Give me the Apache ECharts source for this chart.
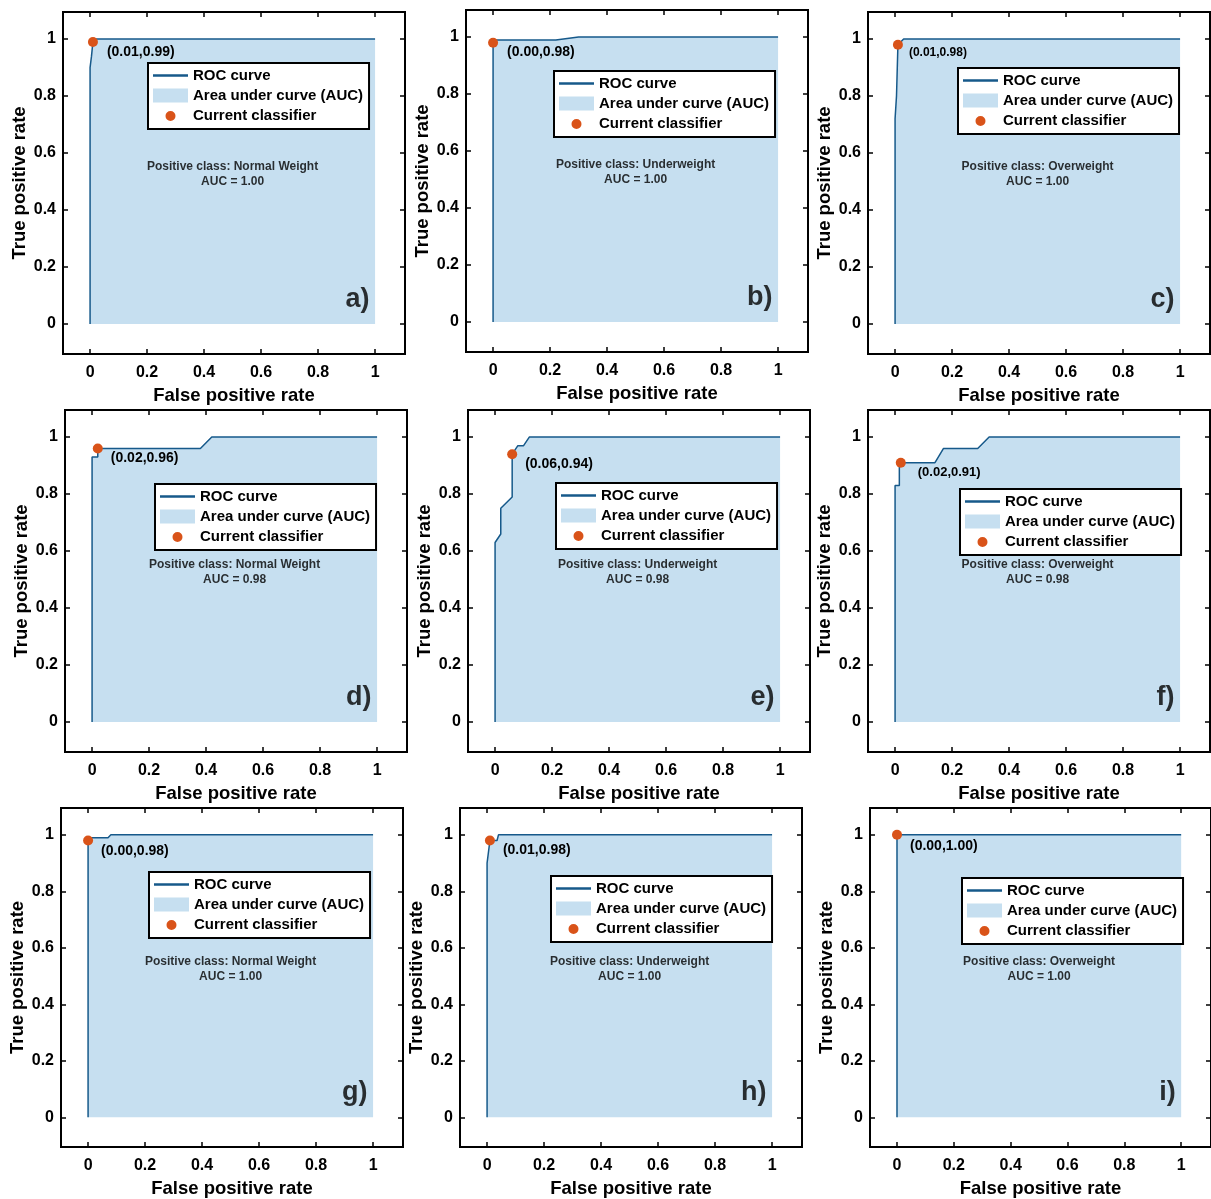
<!DOCTYPE html>
<html><head><meta charset="utf-8">
<script src="https://cdn.jsdelivr.net/npm/echarts@6/dist/echarts.min.js"></script>
<style>html,body{margin:0;padding:0;background:#fff}#c{width:1211px;height:1199px}</style>
</head><body><div id="c"></div>
<script>
// ---------- data ----------
const panelLetters = ['a)', 'b)', 'c)', 'd)', 'e)', 'f)', 'g)', 'h)', 'i)'];
const positiveClasses = ['Normal Weight', 'Underweight', 'Overweight',
                         'Normal Weight', 'Underweight', 'Overweight',
                         'Normal Weight', 'Underweight', 'Overweight'];
const aucValues = [1.00, 1.00, 1.00, 0.98, 0.98, 0.98, 1.00, 1.00, 1.00];
const rocA = [[0, 0], [0, 0.90], [0.005, 0.94], [0.01, 0.99], [0.02, 1], [1, 1]];
const rocB = [[0, 0], [0, 0.99], [0.22, 0.99], [0.30, 1], [1, 1]];
const rocC = [[0, 0], [0, 0.72], [0.005, 0.80], [0.01, 0.98], [0.03, 1], [1, 1]];
const rocD = [[0, 0], [0, 0.93], [0.02, 0.93], [0.02, 0.96], [0.38, 0.96], [0.42, 1], [1, 1]];
const rocE = [[0, 0], [0, 0.63], [0.02, 0.66], [0.02, 0.75], [0.06, 0.79], [0.06, 0.94], [0.08, 0.97], [0.10, 0.97], [0.12, 1], [1, 1]];
const rocF = [[0, 0], [0, 0.83], [0.015, 0.83], [0.015, 0.91], [0.14, 0.91], [0.17, 0.96], [0.29, 0.96], [0.33, 1], [1, 1]];
const rocG = [[0, 0], [0, 0.98], [0.01, 0.99], [0.07, 0.99], [0.08, 1], [1, 1]];
const rocH = [[0, 0], [0, 0.90], [0.01, 0.98], [0.035, 0.98], [0.04, 1], [1, 1]];
const rocI = [[0, 0], [0, 1], [1, 1]];
const rocCurves = [rocA, rocB, rocC, rocD, rocE, rocF, rocG, rocH, rocI];
const classifierPoints = [[0.01, 0.99], [0.00, 0.98], [0.01, 0.98], [0.02, 0.96], [0.06, 0.94],
                          [0.02, 0.91], [0.00, 0.98], [0.01, 0.98], [0.00, 1.00]];
const tickValues = [0, 0.2, 0.4, 0.6, 0.8, 1];

// ---------- layout / style ----------
const gridPos = [[63, 12], [466, 10], [868, 12], [65, 410], [468, 410], [868, 410], [61, 808], [460, 808], [870, 808]];
const legendPos = [[148, 63], [554, 71], [958, 68], [155, 484], [556, 483], [960, 489], [149, 872], [551, 876], [962, 878]];
const labelFont = [14, 14, 12, 14, 14, 13, 14, 14, 14];
const labelOffset = [[4, 10], [4, 9], [1, 8], [3, 10], [3, 10], [7, 10], [3, 11], [3, 10], [3, 11]];
const GW = 342, GH = 342;
const XMIN = -0.095, XMAX = 1.105, YMIN = -0.105, YMAX = 1.095;
const FONT = '"Liberation Sans", Arial, Helvetica, sans-serif';
const LINE = '#16598a', FILL = '#c6dff0', MARK = '#d95319';

const fmt = v => String(Math.round(v * 10) / 10);
const grids = [], xAxes = [], yAxes = [], series = [], legends = [];

rocCurves.forEach((roc, i) => {
  grids.push({left: gridPos[i][0], top: gridPos[i][1], width: GW, height: GH,
    show: true, borderColor: '#000', borderWidth: 2, backgroundColor: 'transparent'});
  const tick = {show: true, inside: true, length: 5, customValues: tickValues, lineStyle: {color: '#000', width: 1.5}};
  const lab = {customValues: tickValues, fontSize: 16, fontWeight: 'bold', color: '#000', fontFamily: FONT, formatter: fmt};
  const nameStyle = {fontSize: 18.5, fontWeight: 'bold', color: '#000', fontFamily: FONT};
  const xb = xAxes.length, yb = yAxes.length;
  xAxes.push({type: 'value', gridIndex: i, position: 'bottom', min: XMIN, max: XMAX,
    name: 'False positive rate', nameLocation: 'middle', nameGap: 32, nameTextStyle: nameStyle,
    axisLine: {show: false, onZero: false}, splitLine: {show: false}, axisTick: tick,
    axisLabel: Object.assign({margin: 11}, lab)});
  xAxes.push({type: 'value', gridIndex: i, position: 'top', min: XMIN, max: XMAX,
    axisLine: {show: false, onZero: false}, splitLine: {show: false}, axisTick: tick, axisLabel: {show: false}});
  yAxes.push({type: 'value', gridIndex: i, position: 'left', min: YMIN, max: YMAX,
    name: 'True positive rate', nameLocation: 'middle', nameGap: 33, nameTextStyle: nameStyle,
    axisLine: {show: false, onZero: false}, splitLine: {show: false}, axisTick: tick,
    axisLabel: Object.assign({margin: 7}, lab)});
  yAxes.push({type: 'value', gridIndex: i, position: 'right', min: YMIN, max: YMAX,
    axisLine: {show: false, onZero: false}, splitLine: {show: false}, axisTick: tick, axisLabel: {show: false}});

  const ax = {xAxisIndex: xb, yAxisIndex: yb};
  series.push(Object.assign({type: 'line', name: 'Area under curve (AUC)', data: roc, symbol: 'none',
    lineStyle: {width: 0}, areaStyle: {color: FILL, opacity: 1}, itemStyle: {color: FILL}, z: 1, silent: true}, ax));
  series.push(Object.assign({type: 'line', name: 'ROC curve', data: roc, symbol: 'none',
    lineStyle: {color: LINE, width: 1.5}, itemStyle: {color: LINE}, z: 2, silent: true}, ax));
  const pt = classifierPoints[i];
  series.push(Object.assign({type: 'scatter', name: 'Current classifier', data: [pt], symbolSize: 10,
    itemStyle: {color: MARK, opacity: 1}, z: 5, silent: true,
    label: {show: true, position: 'right', distance: 5, offset: labelOffset[i],
      formatter: '(' + pt[0].toFixed(2) + ',' + pt[1].toFixed(2) + ')',
      fontSize: labelFont[i], fontWeight: 'bold', color: '#000', fontFamily: FONT}}, ax));
  series.push(Object.assign({type: 'scatter', name: 'note' + i, data: [[0.5, 0.525]], symbolSize: 1,
    itemStyle: {color: 'rgba(0,0,0,0)'}, z: 3, silent: true,
    label: {show: true, position: 'inside',
      formatter: 'Positive class: ' + positiveClasses[i] + '\nAUC = ' + aucValues[i].toFixed(2),
      fontSize: 12, fontWeight: 'bold', lineHeight: 15, color: '#000', fontFamily: FONT}}, ax));
  series.push(Object.assign({type: 'scatter', name: 'letter' + i, data: [[1, 0]], symbolSize: 1,
    itemStyle: {color: 'rgba(0,0,0,0)'}, z: 3, silent: true,
    label: {show: true, position: 'left', distance: 5, offset: [0, -25], formatter: panelLetters[i],
      fontSize: 27, fontWeight: 'bold', color: '#000', fontFamily: FONT}}, ax));

  legends.push({left: legendPos[i][0], top: legendPos[i][1], orient: 'vertical', selectedMode: false,
    backgroundColor: '#fff', borderColor: '#000', borderWidth: 2, padding: [4, 6, 4, 5],
    itemWidth: 35, itemHeight: 14, itemGap: 3, z: 10,
    textStyle: {fontSize: 15, fontWeight: 'bold', color: '#000', fontFamily: FONT, lineHeight: 17},
    data: [
      {name: 'ROC curve', icon: 'path://M0,0L40,0L40,3L0,3Z', itemStyle: {color: LINE, borderWidth: 0, opacity: 1}},
      {name: 'Area under curve (AUC)', icon: 'rect', itemStyle: {color: FILL, borderWidth: 0, opacity: 1}},
      {name: 'Current classifier', icon: 'circle', itemStyle: {color: MARK, borderColor: '#fff', borderWidth: 4, opacity: 1}}
    ]});
});

const chart = echarts.init(document.getElementById('c'), null, {renderer: 'canvas', width: 1211, height: 1199});
chart.setOption({animation: false, backgroundColor: '#fff', grid: grids, xAxis: xAxes, yAxis: yAxes,
  legend: legends, series: series});
</script></body></html>
